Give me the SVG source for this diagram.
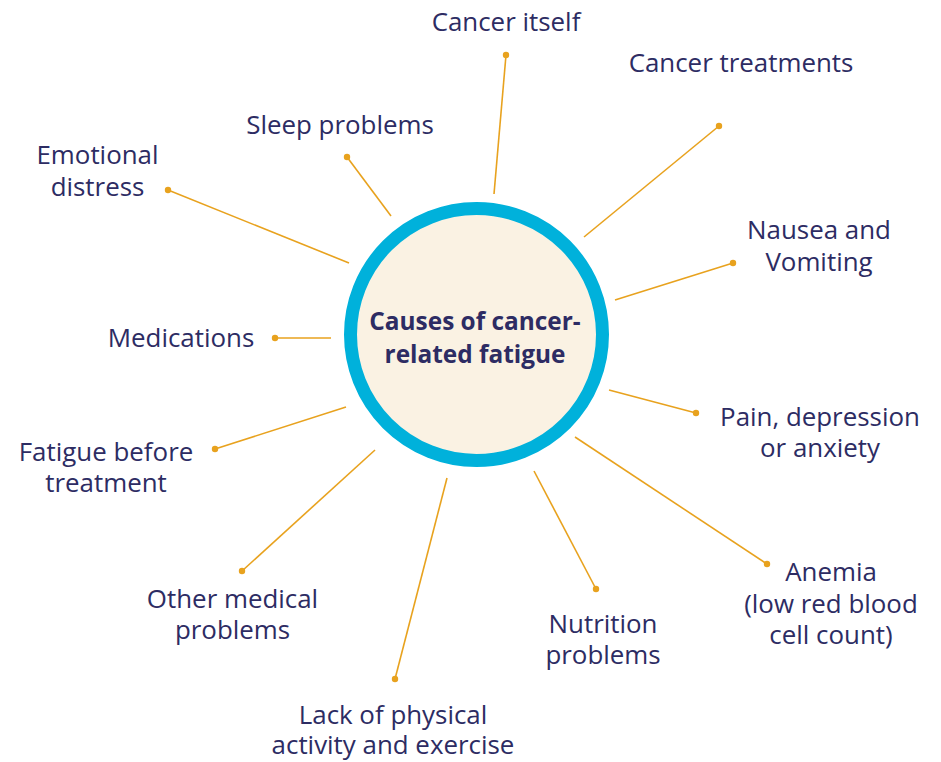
<svg xmlns="http://www.w3.org/2000/svg" width="941" height="762" viewBox="0 0 941 762">
<style>
.lbl{font-family:"Open Sans","Liberation Sans",sans-serif;font-size:25.9px;fill:#2D2C63;text-anchor:middle}
.ttl{font-family:"Open Sans","Liberation Sans",sans-serif;font-size:24.4px;font-weight:bold;fill:#2D2C63;text-anchor:middle}
.ln{stroke:#E8A21E;stroke-width:1.6;fill:none}
.dot{fill:#E8A21E}
</style>
<rect width="941" height="762" fill="#FFFFFF"/>
<g id="connectors">
<line class="ln" x1="494" y1="194" x2="506" y2="55"/><circle class="dot" cx="506" cy="55" r="3.2"/>
<line class="ln" x1="584" y1="237" x2="719" y2="126"/><circle class="dot" cx="719" cy="126" r="3.2"/>
<line class="ln" x1="391" y1="216" x2="347" y2="157"/><circle class="dot" cx="347" cy="157" r="3.2"/>
<line class="ln" x1="349" y1="263" x2="168" y2="190"/><circle class="dot" cx="168" cy="190" r="3.2"/>
<line class="ln" x1="331" y1="338" x2="275" y2="338"/><circle class="dot" cx="275" cy="338" r="3.2"/>
<line class="ln" x1="346" y1="407" x2="215" y2="449"/><circle class="dot" cx="215" cy="449" r="3.2"/>
<line class="ln" x1="375" y1="450" x2="242" y2="571"/><circle class="dot" cx="242" cy="571" r="3.2"/>
<line class="ln" x1="447" y1="478" x2="395" y2="679"/><circle class="dot" cx="395" cy="679" r="3.2"/>
<line class="ln" x1="534" y1="471" x2="596" y2="589"/><circle class="dot" cx="596" cy="589" r="3.2"/>
<line class="ln" x1="575" y1="437" x2="767" y2="564"/><circle class="dot" cx="767" cy="564" r="3.2"/>
<line class="ln" x1="609" y1="390" x2="696" y2="413"/><circle class="dot" cx="696" cy="413" r="3.2"/>
<line class="ln" x1="615" y1="300" x2="733" y2="263"/><circle class="dot" cx="733" cy="263" r="3.2"/>
</g>
<g id="center">
<circle cx="476.5" cy="334.5" r="126" fill="#FAF2E3" stroke="#00B1DB" stroke-width="13"/>
<text class="ttl" x="475" y="330">Causes of cancer-</text>
<text class="ttl" x="475" y="363">related fatigue</text>
</g>
<g id="n-cancer-itself"><text class="lbl" x="506" y="31">Cancer itself</text></g>
<g id="n-cancer-treatments"><text class="lbl" x="741" y="72">Cancer treatments</text></g>
<g id="n-sleep"><text class="lbl" x="340" y="134">Sleep problems</text></g>
<g id="n-emotional"><text class="lbl" x="97.5" y="164">Emotional</text><text class="lbl" x="97.5" y="196">distress</text></g>
<g id="n-medications"><text class="lbl" x="181" y="347">Medications</text></g>
<g id="n-fatigue"><text class="lbl" x="106" y="461">Fatigue before</text><text class="lbl" x="106" y="492">treatment</text></g>
<g id="n-other"><text class="lbl" x="232.5" y="608">Other medical</text><text class="lbl" x="232.5" y="639">problems</text></g>
<g id="n-lack"><text class="lbl" x="393" y="724">Lack of physical</text><text class="lbl" x="393" y="754">activity and exercise</text></g>
<g id="n-nutrition"><text class="lbl" x="603" y="633">Nutrition</text><text class="lbl" x="603" y="664">problems</text></g>
<g id="n-anemia"><text class="lbl" x="831" y="581">Anemia</text><text class="lbl" x="831" y="613">(low red blood</text><text class="lbl" x="831" y="644">cell count)</text></g>
<g id="n-pain"><text class="lbl" x="820" y="426">Pain, depression</text><text class="lbl" x="820" y="457">or anxiety</text></g>
<g id="n-nausea"><text class="lbl" x="819" y="239">Nausea and</text><text class="lbl" x="819" y="271">Vomiting</text></g>
</svg>
